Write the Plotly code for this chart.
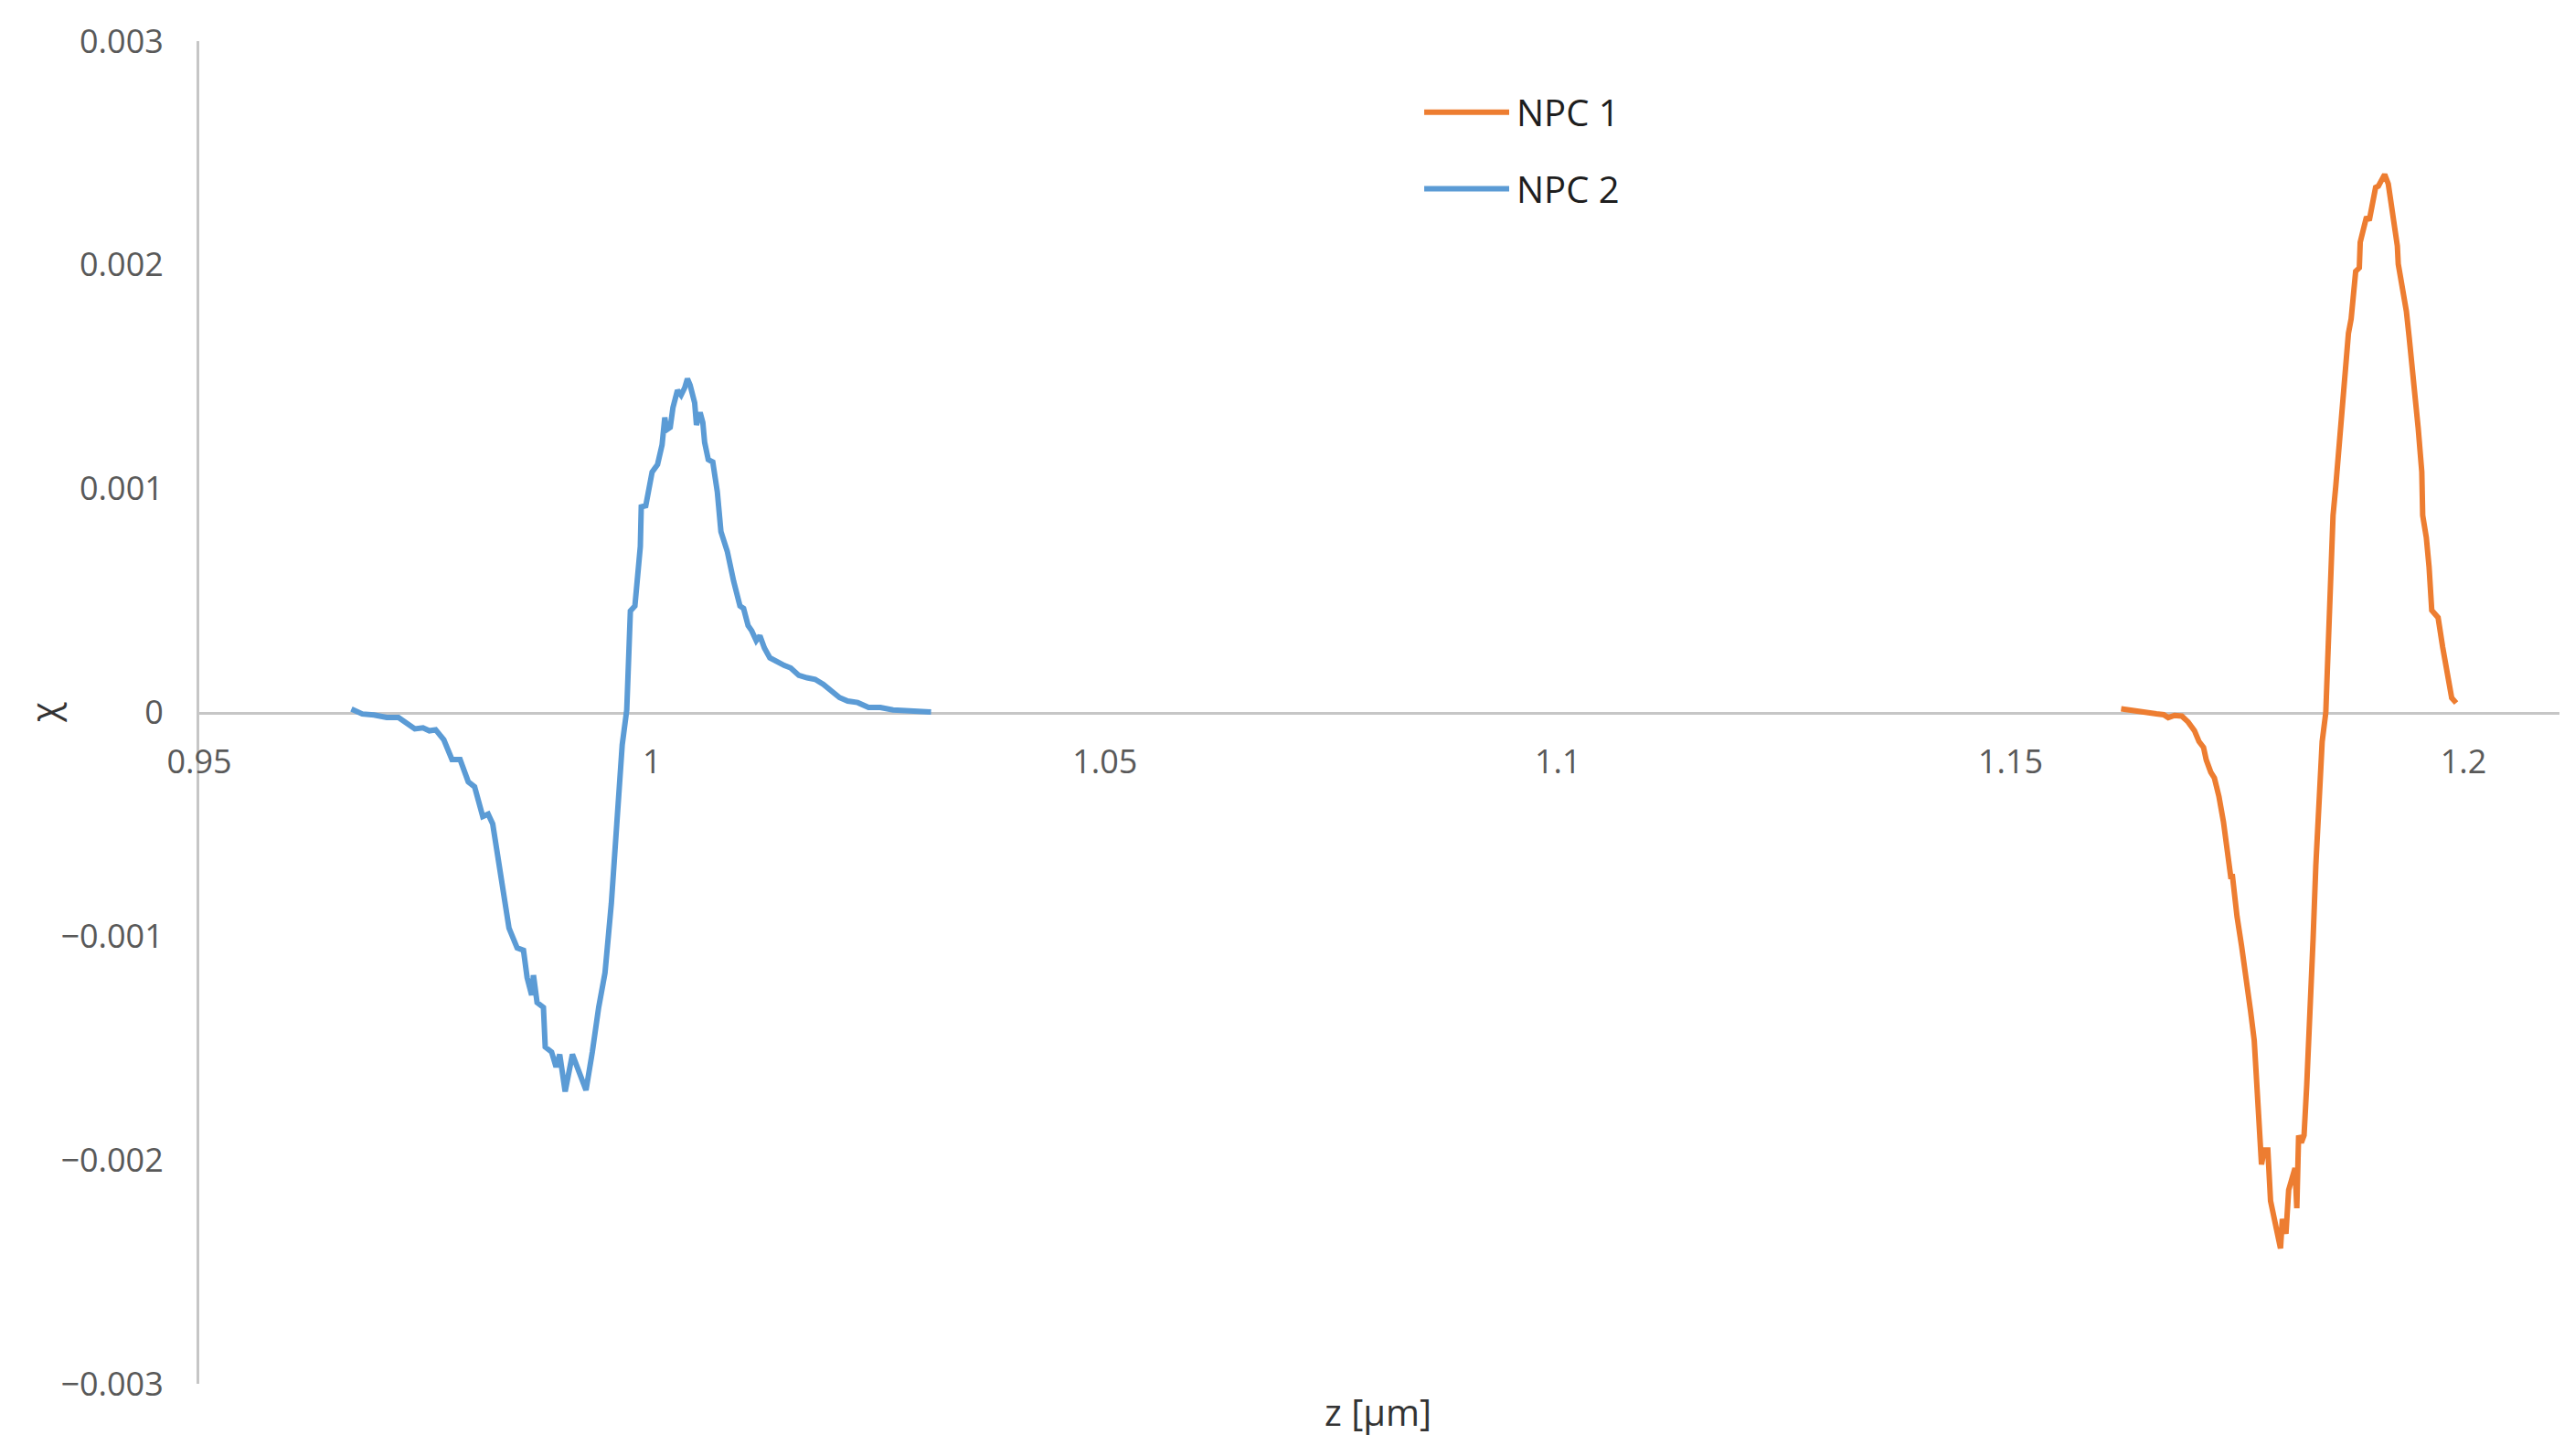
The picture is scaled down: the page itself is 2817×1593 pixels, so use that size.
import plotly.graph_objects as go

# values
npc2_z = [0.9668, 0.9680, 0.9693, 0.9707, 0.9720, 0.9729, 0.9738, 0.9747, 0.9754, 0.9761,
          0.9770, 0.9779, 0.9788, 0.9797, 0.9804, 0.9813, 0.9819, 0.9824, 0.9831, 0.9837,
          0.9842, 0.9851, 0.9858, 0.9862, 0.9867, 0.9869, 0.9873, 0.9880, 0.9882, 0.9889,
          0.9894, 0.9898, 0.9904, 0.9912, 0.9919, 0.9927, 0.9934, 0.9941, 0.9948, 0.9955,
          0.9961, 0.9967, 0.9972, 0.9976, 0.9981, 0.9984, 0.9987, 0.9988, 0.9993, 1.0000,
          1.0006, 1.0011, 1.0014, 1.0016, 1.0020, 1.0023, 1.0028, 1.0032, 1.0036, 1.0039,
          1.0042, 1.0047, 1.0049, 1.0053, 1.0056, 1.0058, 1.0062, 1.0067, 1.0072, 1.0076,
          1.0083, 1.0090, 1.0097, 1.0101, 1.0106, 1.0110, 1.0115, 1.0119, 1.0124, 1.0130,
          1.0139, 1.0146, 1.0153, 1.0162, 1.0171, 1.0180, 1.0189, 1.0198, 1.0207, 1.0216,
          1.0227, 1.0239, 1.0252, 1.0266, 1.0279, 1.0293, 1.0308]
npc2_chi = [0.0000155, -0.0000066, -0.0000111, -0.0000222, -0.0000222, -0.0000509, -0.0000731, -0.0000687, -0.000082, -0.0000775,
            -0.000122, -0.000210, -0.000210, -0.000310, -0.000332, -0.000465, -0.000454, -0.000498, -0.000676, -0.000853,
            -0.000964, -0.001052, -0.001063, -0.001185, -0.001263, -0.001174, -0.001296, -0.001318, -0.001495, -0.001517,
            -0.001584, -0.001528, -0.001694, -0.001528, -0.001606, -0.001688, -0.001517, -0.001318, -0.001163, -0.000853,
            -0.000498, -0.000144, 0.0000111, 0.000454, 0.000476, 0.000587, 0.000742, 0.000919, 0.000924, 0.001074,
            0.001108, 0.001196, 0.001318, 0.001263, 0.001274, 0.001362, 0.00144, 0.001418, 0.001451, 0.001491,
            0.001462, 0.001384, 0.001285, 0.00134, 0.001296, 0.001207, 0.00113, 0.001119, 0.000986, 0.000808,
            0.00072, 0.000587, 0.000476, 0.000465, 0.000388, 0.000365, 0.000321, 0.000343, 0.000288, 0.000244,
            0.000222, 0.00021, 0.000199, 0.000166, 0.000155, 0.000148, 0.000126, 0.0000997, 0.0000665, 0.0000509,
            0.0000443, 0.0000222, 0.0000222, 0.0000111, 0.0000066, 0.0000022, 0.0000022]

npc1_z = [1.1622, 1.1631, 1.1641, 1.1651, 1.1661, 1.1669, 1.1674, 1.1681, 1.1689, 1.1696,
          1.1703, 1.1708, 1.1713, 1.1716, 1.1721, 1.1725, 1.1730, 1.1735, 1.1738, 1.1742,
          1.1743, 1.1745, 1.1747, 1.1750, 1.1755, 1.1760, 1.1765, 1.1769, 1.1772, 1.1775,
          1.1777, 1.1780, 1.1784, 1.1787, 1.1792, 1.1795, 1.1798, 1.1800, 1.1804, 1.1807,
          1.1811, 1.1814, 1.1816, 1.1818, 1.1821, 1.1824, 1.1827, 1.1831, 1.1834, 1.1837,
          1.1841, 1.1844, 1.1848, 1.1850, 1.1853, 1.1856, 1.1859, 1.1863, 1.1866, 1.1869,
          1.1873, 1.1876, 1.1879, 1.1881, 1.1885, 1.1886, 1.1890, 1.1893, 1.1896, 1.1899,
          1.1901, 1.1903, 1.1906, 1.1910, 1.1913, 1.1917, 1.1920, 1.1923, 1.1927, 1.1928,
          1.1933, 1.1937, 1.1940, 1.1943, 1.1947, 1.1950, 1.1954, 1.1955, 1.1959, 1.1962,
          1.1965, 1.1972, 1.1977, 1.1982, 1.1987, 1.1992]
npc1_chi = [0.0000163, 0.0000098, 0.0000065, -0.0000033, -0.0000065, -0.0000098, -0.0000228, -0.000013, -0.0000163, -0.0000424,
            -0.0000815, -0.00013, -0.000156, -0.000212, -0.000267, -0.000293, -0.000375, -0.000489, -0.00057, -0.000684,
            -0.000733, -0.000733, -0.000815, -0.000912, -0.001043, -0.001173, -0.001336, -0.001466, -0.001662, -0.001939,
            -0.00202, -0.001955, -0.001955, -0.002183, -0.002281, -0.002313, -0.002395, -0.002264, -0.002329, -0.002134,
            -0.002069, -0.002036, -0.002215, -0.00189, -0.001922, -0.00189, -0.001662, -0.001336, -0.00101, -0.000684,
            -0.000358, -0.00013, 0.0, 0.000228, 0.000619, 0.00088, 0.00101, 0.001205, 0.001368, 0.001531,
            0.001694, 0.001759, 0.001922, 0.001971, 0.001987, 0.002101, 0.002167, 0.002215, 0.002199, 0.002264,
            0.002281, 0.002346, 0.002352, 0.002378, 0.002404, 0.002362, 0.002281, 0.002215, 0.002085, 0.002004,
            0.00189, 0.001792, 0.001678, 0.001564, 0.001434, 0.001271, 0.001075, 0.00088, 0.000782, 0.000652,
            0.000456, 0.000424, 0.000293, 0.000163, 0.0000652, 0.0000424]

series_names = ["NPC 1", "NPC 2"]
series_colors = ["#ED7D31", "#5B9BD5"]

x_ticks = [0.95, 1.0, 1.05, 1.1, 1.15, 1.2]
x_labels = ["0.95", "1", "1.05", "1.1", "1.15", "1.2"]
y_ticks = [-0.003, -0.002, -0.001, 0, 0.001, 0.002, 0.003]
y_labels = ["\u22120.003", "\u22120.002", "\u22120.001", "0", "0.001", "0.002", "0.003"]

FONT = "Open Sans"
AXIS_GREY = "#C6C6C6"

fig = go.Figure()
fig.add_trace(go.Scatter(x=npc2_z, y=npc2_chi, mode="lines", name=series_names[1],
                         line=dict(color=series_colors[1], width=6), showlegend=False))
fig.add_trace(go.Scatter(x=npc1_z, y=npc1_chi, mode="lines", name=series_names[0],
                         line=dict(color=series_colors[0], width=6), showlegend=False))

# legend drawn by hand so the key lines are as long as in the original
for i, (name, col) in enumerate(zip(series_names, series_colors)):
    ly = 0.947 - i * 0.057
    fig.add_shape(type="line", xref="paper", yref="paper", x0=0.519, x1=0.555, y0=ly, y1=ly,
                  line=dict(color=col, width=6))
    fig.add_annotation(xref="paper", yref="paper", x=0.5575, y=ly, text=name, showarrow=False,
                       xanchor="left", yanchor="middle", font=dict(family=FONT, size=40, color="#1E1E1E"))

fig.add_annotation(xref="paper", yref="paper", x=0.4995, y=-0.021, text="z [\u00b5m]", showarrow=False,
                   xanchor="center", yanchor="middle", font=dict(family=FONT, size=40, color="#333333"))
fig.add_annotation(xref="paper", yref="paper", x=-0.066, y=0.5, text="\u03c7", showarrow=False,
                   textangle=-90, xanchor="center", yanchor="middle",
                   font=dict(family=FONT, size=40, color="#333333"))

fig.update_xaxes(range=[0.95, 1.2106], tickvals=x_ticks, ticktext=x_labels,
                 anchor="free", position=0.5, showline=True, linecolor=AXIS_GREY, linewidth=3,
                 showgrid=False, zeroline=False, ticks="", ticklabelstandoff=21,
                 tickfont=dict(family=FONT, size=36, color="#595959"), layer="below traces")
fig.update_yaxes(range=[-0.003, 0.003], tickvals=y_ticks, ticktext=y_labels,
                 showline=True, linecolor=AXIS_GREY, linewidth=3,
                 showgrid=False, zeroline=False, ticks="", ticklabelstandoff=29,
                 tickfont=dict(family=FONT, size=36, color="#595959"), layer="below traces")

# the page body adds 8px around the figure, so the figure is 16px smaller than the window
fig.update_layout(width=2801, height=1577, plot_bgcolor="white", paper_bgcolor="white",
                  margin=dict(l=210, r=9, t=37, b=71), showlegend=False)

fig.write_html("out.html")
